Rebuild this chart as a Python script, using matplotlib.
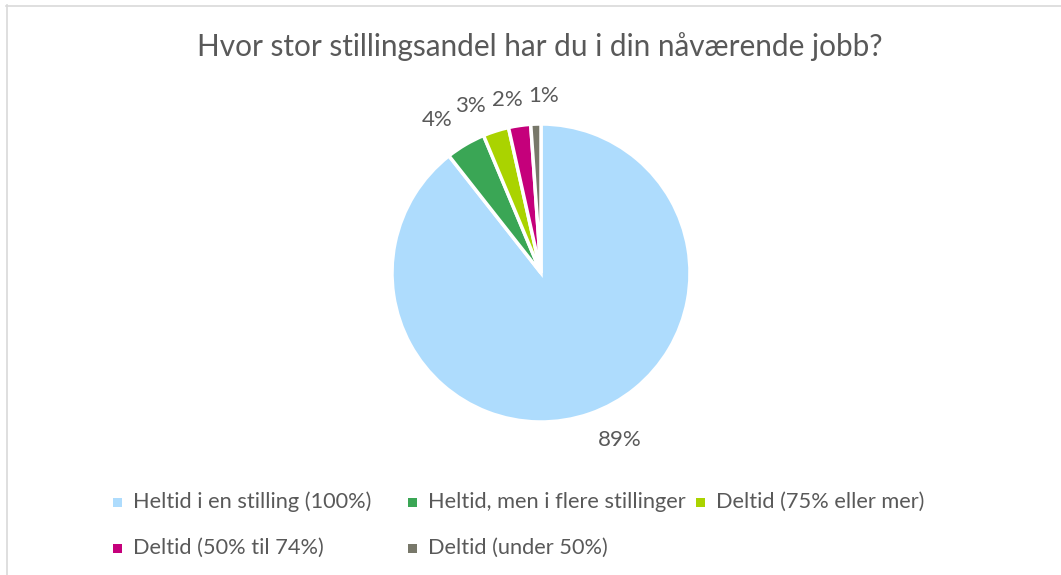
import numpy as np
import matplotlib
matplotlib.use("Agg")
import matplotlib.pyplot as plt
from matplotlib.patches import Rectangle
from matplotlib.lines import Line2D

W, H = 1061, 575
DPI = 100

title = "Hvor stor stillingsandel har du i din nåværende jobb?"
categories = [
    "Heltid i en stilling (100%)",
    "Heltid, men i flere stillinger",
    "Deltid (75% eller mer)",
    "Deltid (50% til 74%)",
    "Deltid (under 50%)",
]
values = [89.4, 4.3, 2.8, 2.4, 1.1]
labels = ["89%", "4%", "3%", "2%", "1%"]
colors = ["#aedcfd", "#3aa655", "#aad300", "#c5007b", "#78786a"]

# layout: label angular nudge (deg) and radial distance (in radii), like Excel's outside-end labels
label_nudge = [6.2, 3.7, 5.3, 2.6, -2.7]
label_dist = [1.24, 1.24, 1.22, 1.18, 1.19]

TXT = "#595959"
FONT = "Lato"

fig = plt.figure(figsize=(W / DPI, H / DPI), dpi=DPI)
fig.patch.set_facecolor("white")

def fx(px):
    return px / W

def fy(py):
    return 1 - py / H

# chart border (light gray), partly cropped
fig.add_artist(Line2D([fx(6.5), fx(6.5)], [fy(5), fy(H + 5)], color="#d9d9d9", lw=1.2))
fig.add_artist(Line2D([fx(6), fx(W + 5)], [fy(5.5), fy(5.5)], color="#d9d9d9", lw=1.2))

# pie axes
cx, cy, R = 541, 273, 149
ax = fig.add_axes([fx(cx - R), fy(cy + R), 2 * R / W, 2 * R / H])
wedges, texts = ax.pie(
    values,
    colors=colors,
    labels=labels,
    startangle=90,
    counterclock=False,
    labeldistance=1.2,
    wedgeprops=dict(edgecolor="white", linewidth=2.5),
    textprops=dict(color=TXT, fontsize=16, family=FONT),
)
for w, t, nd, dist in zip(wedges, texts, label_nudge, label_dist):
    mid = np.deg2rad((w.theta1 + w.theta2) / 2 + nd)
    t.set_position((dist * np.cos(mid), dist * np.sin(mid)))
    t.set_ha("center")
    t.set_va("center")
ax.set_xlim(-1, 1)
ax.set_ylim(-1, 1)
ax.set_aspect("equal")
ax.axis("off")

fig.text(fx(540), fy(47), title, ha="center", va="center", color=TXT,
         fontsize=21.4, family=FONT)

# legend (manual grid as in the original)
leg_pos = [(117, 502), (412, 502), (700, 502), (117, 548), (412, 548)]
for (px, py), lab, col in zip(leg_pos, categories, colors):
    s = 9
    fig.add_artist(Rectangle((fx(px - s / 2), fy(py + s / 2)), s / W, s / H,
                             facecolor=col, edgecolor="none", transform=fig.transFigure))
    fig.text(fx(px + 16), fy(py), lab, ha="left", va="center", color=TXT,
             fontsize=15.7, family=FONT)

fig.savefig("out.png", dpi=DPI)
